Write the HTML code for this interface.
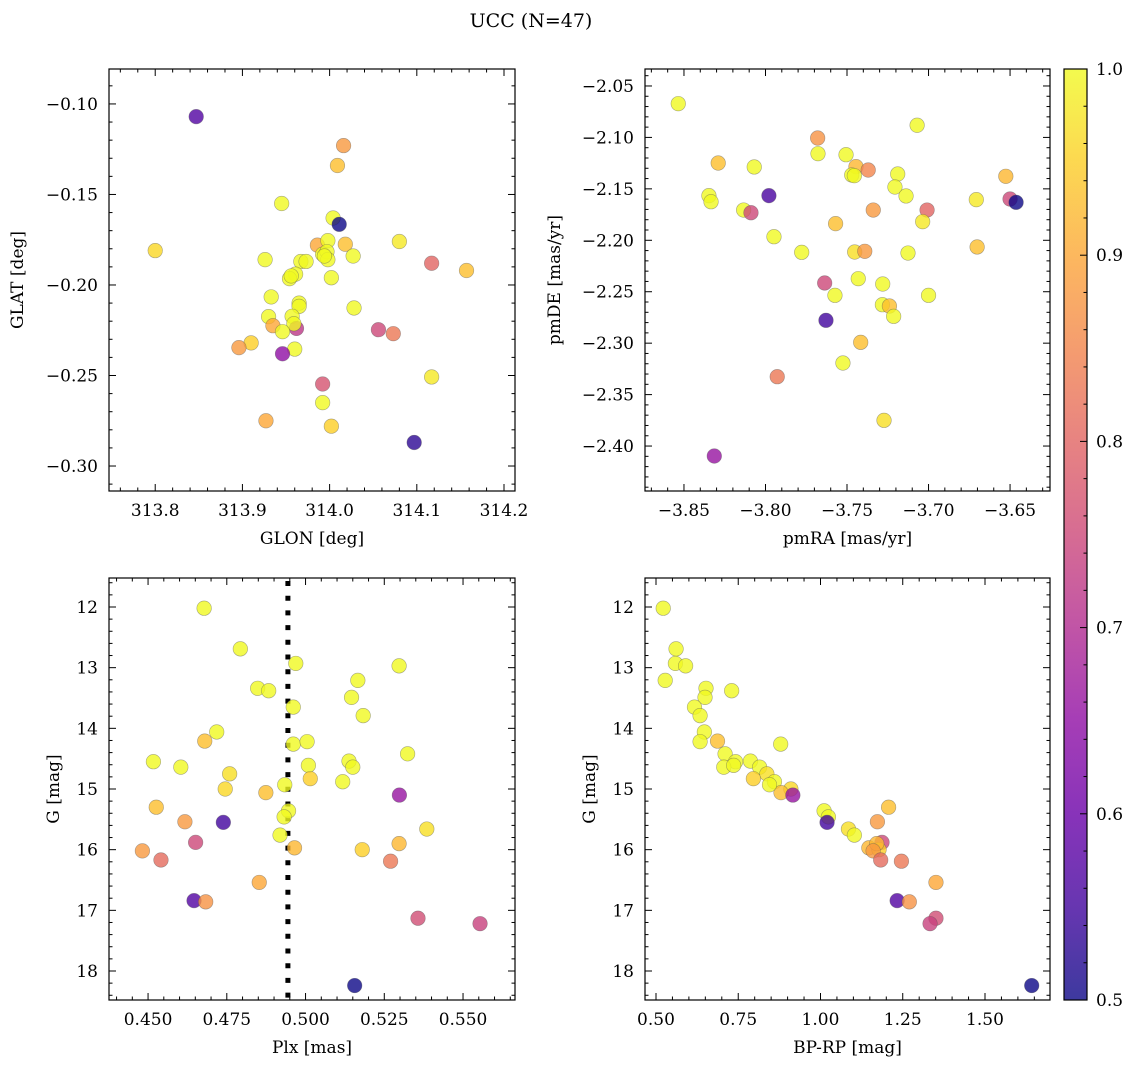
<!DOCTYPE html>
<html><head><meta charset="utf-8"><style>
body{margin:0;background:#fff}
svg{display:block;font-family:"DejaVu Serif","Liberation Serif",serif}
</style></head><body>
<svg id="fig" width="1136" height="1068" viewBox="0 0 1136 1068" xmlns="http://www.w3.org/2000/svg">
<text x="531" y="27" font-size="19" text-anchor="middle">UCC (N=47)</text>
</svg>
<script>
// Panel 1: GLON vs GLAT
const glon=[313.847,314.016,314.009,313.945,314.004,314.011,313.800,313.986,313.998,314.018,314.080,313.992,313.997,313.998,314.027,313.926,313.967,313.973,314.117,314.157,313.961,313.954,314.002,313.933,313.965,313.965,314.028,313.930,313.957,313.935,313.962,313.959,313.946,314.056,314.073,313.910,313.896,313.960,313.946,313.992,314.117,313.992,313.927,314.002,314.097,313.956,313.994];
const glat=[-0.107,-0.123,-0.134,-0.155,-0.163,-0.1665,-0.181,-0.178,-0.1755,-0.1775,-0.176,-0.183,-0.1816,-0.186,-0.184,-0.186,-0.187,-0.187,-0.188,-0.192,-0.194,-0.1965,-0.196,-0.2066,-0.210,-0.2118,-0.2127,-0.2175,-0.2173,-0.2225,-0.224,-0.2214,-0.2258,-0.2247,-0.2269,-0.232,-0.2346,-0.2354,-0.238,-0.2547,-0.2508,-0.265,-0.275,-0.278,-0.287,-0.195,-0.184];
const probPos=[0.57,0.88,0.93,1,1,0.5,0.96,0.9,1,0.93,0.98,1,1,1,1,1,1,1,0.8,0.93,1,1,1,1,1,1,1,1,1,0.9,0.72,1,1,0.75,0.83,0.95,0.88,1,0.65,0.77,0.98,1,0.9,0.95,0.53,1,1];
// Panel 2: pmRA vs pmDE
const pmra=[-3.8535,-3.707,-3.768,-3.7678,-3.7506,-3.829,-3.8069,-3.7445,-3.737,-3.7471,-3.7455,-3.7189,-3.6526,-3.7206,-3.8347,-3.8334,-3.7979,-3.7138,-3.6707,-3.65,-3.6463,-3.8134,-3.8089,-3.7339,-3.7009,-3.7036,-3.757,-3.7948,-3.7778,-3.7453,-3.7391,-3.7126,-3.6702,-3.7431,-3.7637,-3.7281,-3.7574,-3.70,-3.7283,-3.724,-3.7214,-3.7629,-3.7416,-3.7525,-3.7928,-3.7273,-3.8314];
const pmde=[-2.0672,-2.0882,-2.1006,-2.1158,-2.1168,-2.1249,-2.1287,-2.1284,-2.1317,-2.1365,-2.1372,-2.1356,-2.1378,-2.1482,-2.1566,-2.1625,-2.1566,-2.1569,-2.1605,-2.1599,-2.1631,-2.1706,-2.1732,-2.1706,-2.1706,-2.1819,-2.1838,-2.1965,-2.2117,-2.2114,-2.2107,-2.2124,-2.2065,-2.2373,-2.2415,-2.2425,-2.2535,-2.2535,-2.2626,-2.2639,-2.2739,-2.2778,-2.2992,-2.3193,-2.3326,-2.375,-2.4097];
const probPm=[1,1,0.87,1,1,0.93,1,0.92,0.85,1,1,1,0.92,1,1,1,0.56,1,0.98,0.75,0.5,1,0.75,0.88,0.8,0.98,0.93,1,1,0.97,0.88,1,0.93,1,0.75,1,1,1,1,0.93,1,0.55,0.93,1,0.83,0.97,0.66];
// Panels 3 & 4: Plx, BP-RP vs G
const plx=[0.4678,0.4793,0.4969,0.5297,0.5166,0.4848,0.4883,0.5146,0.4961,0.5183,0.4718,0.4680,0.4961,0.5005,0.5324,0.4517,0.4604,0.5009,0.5138,0.5150,0.4759,0.5015,0.5118,0.4745,0.4874,0.4934,0.5298,0.4526,0.4946,0.4932,0.4617,0.4739,0.5385,0.4919,0.4651,0.4965,0.5180,0.5297,0.4482,0.4541,0.5270,0.4853,0.4646,0.4683,0.5357,0.5554,0.5156];
const gmag=[12.02,12.69,12.93,12.97,13.21,13.34,13.38,13.49,13.65,13.79,14.06,14.21,14.26,14.22,14.42,14.55,14.64,14.61,14.54,14.64,14.75,14.83,14.88,15.0,15.06,14.93,15.10,15.30,15.36,15.46,15.54,15.55,15.66,15.76,15.88,15.97,16.0,15.90,16.02,16.17,16.19,16.54,16.84,16.86,17.13,17.22,18.24];
const bprp=[0.522,0.561,0.559,0.590,0.528,0.652,0.730,0.649,0.617,0.634,0.647,0.687,0.879,0.634,0.710,0.742,0.706,0.736,0.787,0.815,0.837,0.796,0.86,0.910,0.880,0.845,0.916,1.207,1.011,1.024,1.173,1.020,1.085,1.103,1.187,1.147,1.178,1.171,1.160,1.183,1.246,1.351,1.233,1.270,1.351,1.333,1.642];
const probCmd=[1,1,1,1,1,1,1,1,1,1,1,0.93,1,1,1,1,1,1,1,1,0.97,0.95,1,0.96,0.93,1,0.66,0.93,1,1,0.88,0.55,0.97,1,0.75,0.92,0.95,0.92,0.88,0.81,0.83,0.9,0.57,0.87,0.76,0.74,0.5];
const plxLine=0.4944;

const NS="http://www.w3.org/2000/svg";
const svg=document.getElementById('fig');
function mk(tag,attrs,parent){const e=document.createElementNS(NS,tag);for(const k in attrs)e.setAttribute(k,attrs[k]);(parent||svg).appendChild(e);return e;}
const stops=[[13,8,135],[65,4,157],[106,0,168],[143,13,164],[177,42,144],[204,71,120],[225,100,98],[242,132,75],[252,166,54],[252,206,37],[240,249,33]];
function plasma(t){t=Math.max(0,Math.min(1,t));const s=t*10,i=Math.min(9,Math.floor(s)),f=s-i;const a=stops[i],b=stops[i+1];return 'rgb('+a.map((v,k)=>Math.round(v+(b[k]-v)*f)).join(',')+')';}
function pcol(p){return plasma((p-0.5)/0.5);}
function fmt(v,d){return (v<0?'\u2212':'')+Math.abs(v).toFixed(d);}

function panel(o){
  const g=mk('g',{});
  
  
  const sx=v=>o.x0+(v-o.xmin)/(o.xmax-o.xmin)*(o.x1-o.x0);
  const sy=v=>o.inv? o.y0+(v-o.ymin)/(o.ymax-o.ymin)*(o.y1-o.y0) : o.y1-(v-o.ymin)/(o.ymax-o.ymin)*(o.y1-o.y0);
  function ticks(min,max,step,minor,dec,axis){
    const n0=Math.ceil(min/minor-1e-6),n1=Math.floor(max/minor+1e-6);
    for(let n=n0;n<=n1;n++){
      const v=n*minor;const major=Math.abs(v/step-Math.round(v/step))<1e-6;const L=major?7:3.5;
      if(axis==='x'){const X=sx(v);
        mk('line',{x1:X,x2:X,y1:o.y1,y2:o.y1-L,stroke:'#000','stroke-width':1},g);
        mk('line',{x1:X,x2:X,y1:o.y0,y2:o.y0+L,stroke:'#000','stroke-width':1},g);
        if(major){const t=mk('text',{x:X,y:o.y1+25,'font-size':17,'text-anchor':'middle'},g);t.textContent=fmt(v,dec);}
      }else{const Y=sy(v);
        mk('line',{x1:o.x0,x2:o.x0+L,y1:Y,y2:Y,stroke:'#000','stroke-width':1},g);
        mk('line',{x1:o.x1,x2:o.x1-L,y1:Y,y2:Y,stroke:'#000','stroke-width':1},g);
        if(major){const t=mk('text',{x:o.x0-11,y:Y+6,'font-size':17,'text-anchor':'end'},g);t.textContent=fmt(v,dec);}
      }
    }
  }
  ticks(o.xmin,o.xmax,o.xs,o.xm,o.xd,'x');
  const ylo=Math.min(o.ymin,o.ymax),yhi=Math.max(o.ymin,o.ymax);
  ticks(ylo,yhi,o.ys,o.ym,o.yd,'y');
  if(o.vline!==undefined){const l=mk('line',{x1:sx(o.vline),x2:sx(o.vline),y1:o.y0+3,y2:o.y1,stroke:'#000','stroke-width':5,'stroke-dasharray':'5 9.7'},g);}
  for(let i=0;i<o.xs_.length;i++){
    const c=mk('circle',{cx:sx(o.xs_[i]),cy:sy(o.ys_[i]),r:7.3,fill:pcol(o.p[i]),'fill-opacity':0.8,stroke:'#555','stroke-opacity':0.5,'stroke-width':0.6},g);
    
    
  }
  const fr=mk('rect',{x:o.x0,y:o.y0,width:o.x1-o.x0,height:o.y1-o.y0,fill:'none',stroke:'#000','stroke-width':1.2},g);
  
  const xl=mk('text',{x:(o.x0+o.x1)/2,y:o.y1+53,'font-size':17,'text-anchor':'middle'},g);xl.textContent=o.xl;
  
  const yc=(o.y0+o.y1)/2;const yl=mk('text',{x:o.ylx,y:yc,'font-size':17,'text-anchor':'middle',transform:'rotate(-90 '+o.ylx+' '+yc+')'},g);yl.textContent=o.yl;
  
}
panel({name:'glon-glat-panel',x0:109,x1:515,y0:69,y1:491,xmin:313.747,xmax:314.2126,ymin:-0.3138,ymax:-0.0807,xs:0.1,xm:0.02,xd:1,ys:0.05,ym:0.01,yd:2,xs_:glon,ys_:glat,p:probPos,xl:'GLON [deg]',yl:'GLAT [deg]',ylx:23});
panel({name:'pm-panel',x0:645,x1:1050,y0:69,y1:491,xmin:-3.8739,xmax:-3.6255,ymin:-2.4437,ymax:-2.0335,xs:0.05,xm:0.01,xd:2,ys:0.05,ym:0.01,yd:2,xs_:pmra,ys_:pmde,p:probPm,xl:'pmRA [mas/yr]',yl:'pmDE [mas/yr]',ylx:560});
panel({name:'plx-g-panel',x0:109,x1:515,y0:578,y1:1000,inv:true,xmin:0.4376,xmax:0.5665,ymin:11.522,ymax:18.478,xs:0.025,xm:0.005,xd:3,ys:1,ym:0.2,yd:0,xs_:plx,ys_:gmag,p:probCmd,vline:plxLine,xl:'Plx [mas]',yl:'G [mag]',ylx:59});
panel({name:'cmd-panel',x0:645,x1:1050,y0:578,y1:1000,inv:true,xmin:0.4666,xmax:1.6976,ymin:11.522,ymax:18.478,xs:0.25,xm:0.05,xd:2,ys:1,ym:0.2,yd:0,xs_:bprp,ys_:gmag,p:probCmd,xl:'BP-RP [mag]',yl:'G [mag]',ylx:595});

const cb=mk('g',{});


const defs=mk('defs',{},cb);const lg=mk('linearGradient',{id:'cbg',x1:0,y1:1,x2:0,y2:0},defs);
for(let i=0;i<=20;i++){mk('stop',{offset:(i/20),'stop-color':plasma(i/20),'stop-opacity':0.8},lg);}
const cbx0=1064,cbx1=1087,cby0=69,cby1=1000;
mk('rect',{x:cbx0,y:cby0,width:cbx1-cbx0,height:cby1-cby0,fill:'url(#cbg)',stroke:'#000','stroke-width':1.2},cb);
for(let n=25;n<=50;n++){const v=n*0.02;const Y=cby1-(v-0.5)/0.5*(cby1-cby0);const major=n%5===0;
  mk('line',{x1:cbx1,x2:cbx1-(major?7:3.5),y1:Y,y2:Y,stroke:'#000','stroke-width':1},cb);
  if(major){const t=mk('text',{x:cbx1+9,y:Y+6,'font-size':17},cb);t.textContent=v.toFixed(1);}}
</script>
</body></html>
